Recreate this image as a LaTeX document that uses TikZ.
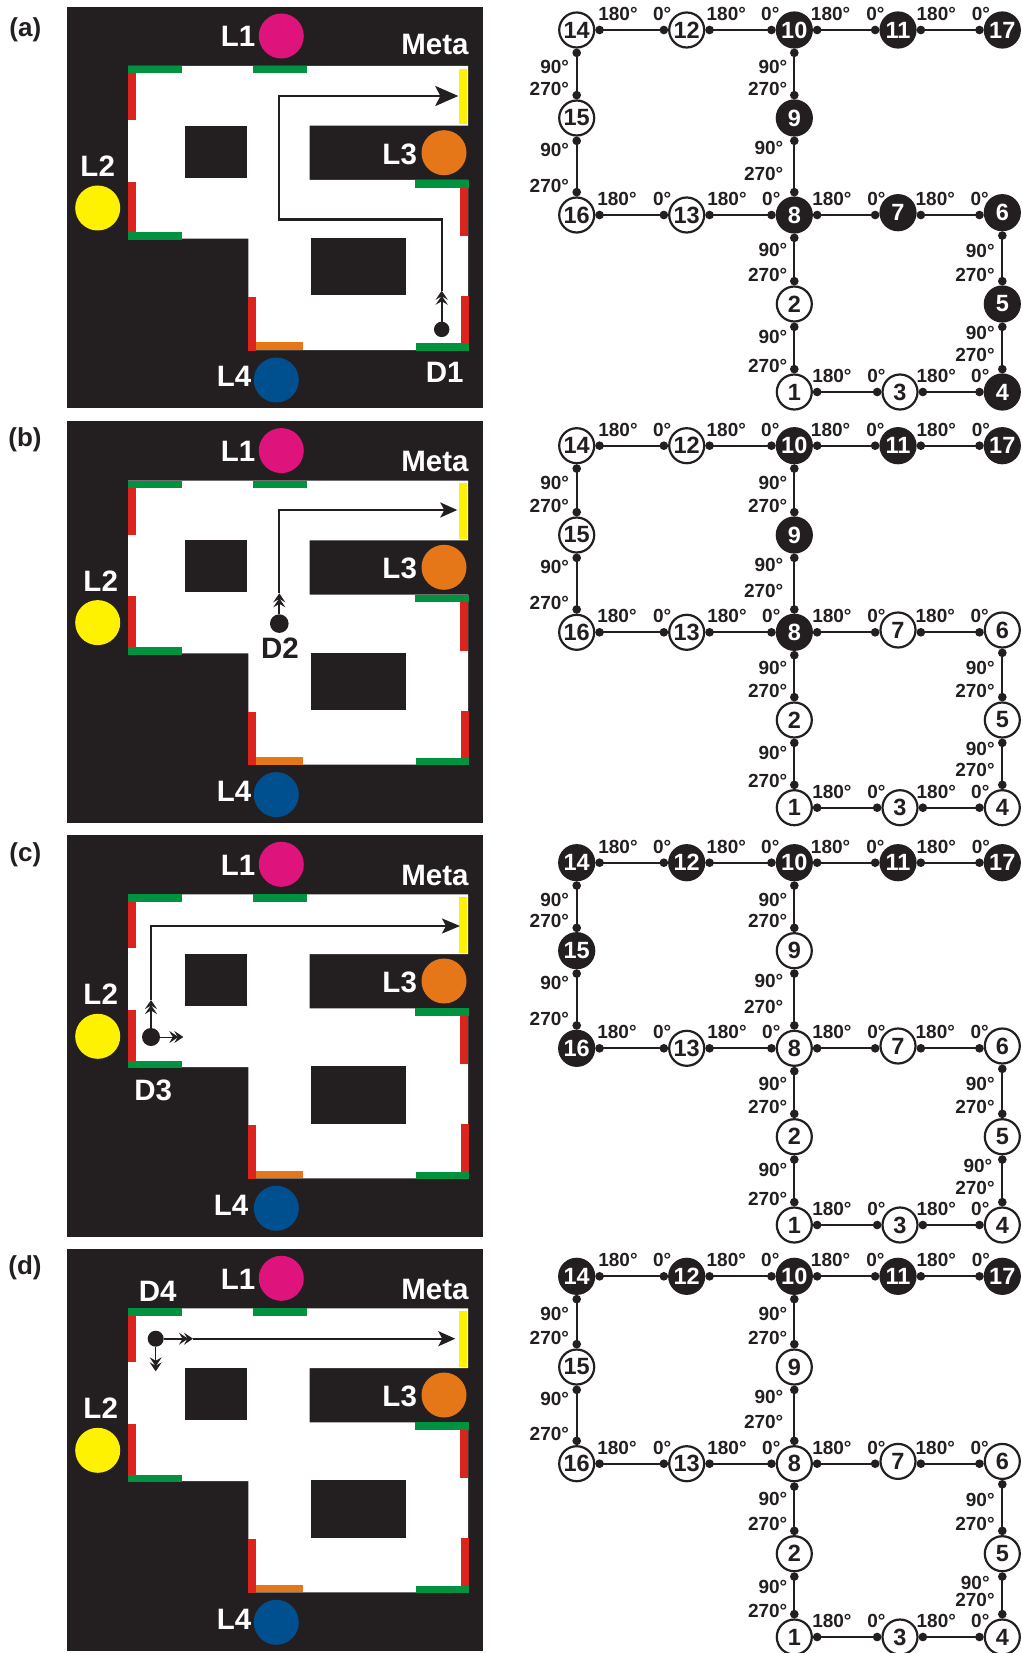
\documentclass[tikz,border=0pt]{standalone}
\usepackage{fontspec}
\setmainfont{Liberation Sans}
\usepackage{xcolor}
\usetikzlibrary{arrows.meta, positioning}

\definecolor{ink}{HTML}{231F20}
\definecolor{lampPink}{HTML}{DE137B}
\definecolor{lampYellow}{HTML}{FFF200}
\definecolor{lampOrange}{HTML}{E57718}
\definecolor{lampBlue}{HTML}{00508F}
\definecolor{barGreen}{HTML}{00923F}
\definecolor{barRed}{HTML}{DC241F}

\tikzset{
  st0/.style={circle, draw=ink, fill=white, text=ink, line width=2.2pt, minimum size=35pt, inner sep=0pt, font=\bfseries\fontsize{23.5}{23.5}\selectfont},
  st1/.style={circle, draw=ink, fill=ink, text=white, line width=2.2pt, minimum size=35pt, inner sep=0pt, font=\bfseries\fontsize{23.5}{23.5}\selectfont},
  link/.style={draw=ink, line width=2pt, {Circle[length=8.5pt,width=8.5pt]}-{Circle[length=8.5pt,width=8.5pt]}},
  ang/.style={inner sep=0pt, text=ink, font=\bfseries\fontsize{19}{19}\selectfont},
  lamp/.style={circle, minimum size=45pt, inner sep=0pt},
  tag/.style={inner sep=0pt, text=white, font=\bfseries\fontsize{29.5}{29.5}\selectfont},
  dtag/.style={inner sep=0pt, text=ink, font=\bfseries\fontsize{29.5}{29.5}\selectfont},
  panel/.style={inner sep=0pt, text=ink, font=\bfseries\fontsize{26}{26}\selectfont},
  robot/.style={circle, fill=ink, inner sep=0pt},
  route/.style={draw=ink, line width=2.3pt},
  probe/.style={draw=ink, line width=0.8pt},
  marks/.style={-{Stealth[length=9pt,width=12pt,inset=3.5pt,sep=-4pt]Stealth[length=9pt,width=12pt,inset=3.5pt]}},
}

% arena: prefix, L2 x, L4 x, Meta y
\newcommand{\maze}[4]{
  \fill[ink] (67.3,0) rectangle (483.3,401.7);
  \fill[white] (128,59.3) -- (468,59.3) -- (468,119) -- (309.5,119) -- (309.5,173.3) -- (468,173.3)
    -- (468,343.3) -- (248.3,343.3) -- (248.3,232) -- (128,232) -- cycle;
  \fill[ink] (184.7,119) rectangle (247,171);
  \fill[ink] (311.3,231.3) rectangle (406.3,288.7);
  % coloured walls
  \fill[barGreen] (128,59.3) rectangle (182,66.7);
  \fill[barGreen] (253.3,59.3) rectangle (307,66.7);
  \fill[barRed] (128,66.7) rectangle (136,113.3);
  \fill[barRed] (128,175) rectangle (136,225.7);
  \fill[barGreen] (128,225.7) rectangle (182,233.3);
  \fill[lampYellow] (459.3,62) rectangle (467.3,117.7);
  \fill[barGreen] (415,173.3) rectangle (469,181);
  \fill[barRed] (460,181) rectangle (468,229.3);
  \fill[barRed] (460.7,289.3) rectangle (468.7,336.7);
  \fill[barGreen] (415.7,336.7) rectangle (469.3,344);
  \fill[barRed] (248.3,290.3) rectangle (256,344);
  \fill[lampOrange] (256,335.7) rectangle (303.3,343.3);
  % lamps
  \node (#1L1) [lamp, fill=lampPink] at (281.3,29.3) {};
  \node (#1L2) [lamp, fill=lampYellow] at (97.7,201.3) {};
  \node (#1L3) [lamp, fill=lampOrange] at (444,146) {};
  \node (#1L4) [lamp, fill=lampBlue] at (276.3,373.3) {};
  \node (#1T1) [tag] at (238,30) {L1};
  \node (#1T2) [tag] at (#2,159.5) {L2};
  \node (#1T3) [tag] at (399.7,147.3) {L3};
  \node (#1T4) [tag] at (#3,370) {L4};
  \node (#1Meta) [tag] at (435,#4) {Meta};
}

% state graph: prefix, five row heights, flags of nodes 1..17, extra shift of one label
\newcommand{\net}[8]{
  \foreach \idn/\nx/\ny in {1/794.3/#6, 2/794.3/#5, 3/900/#6, 4/1002.3/#6, 5/1002.3/#5, 6/1002.3/#4-2.3,
    7/898/#4-2.3, 8/794.3/#4, 9/794.3/#3, 10/794.3/#2, 11/898/#2, 12/686.7/#2, 13/686.7/#4,
    14/576.7/#2, 15/576.7/#3, 16/576.7/#4, 17/1002.3/#2}{
    \pgfmathtruncatemacro\stflag{{#7}[\idn-1]}
    \node (#1\idn) [st\stflag] at (\nx,{\ny}) {\idn};
  }
  \foreach \nA/\nB/\nR/\da/\db in {14/12/14/22.7/-6, 12/10/14/21/-5.4, 10/11/14/17.7/-4, 11/17/14/19.7/-2.7,
    16/13/16/21.7/-6, 13/8/16/21.7/-4.4, 8/7/16/19/-3, 7/6/16/18.7/-4, 1/3/1/19/-5, 3/4/1/17.7/-3.4}{
    \draw[link] (#1\nA.east |- #1\nR) -- (#1\nB.west |- #1\nR)
      node[ang, pos=0, xshift=\da pt, yshift=16pt] {180°}
      node[ang, pos=1, xshift=\db pt, yshift=16pt] {0°};
  }
  \foreach \nA/\nB/\dxa/\dxb/\ta/\tb in {14/15/6.7/6.7/-18.7/10.7, 15/16/6.7/6.7/-13.7/10.7, 10/9/6/6/-18.7/10.7,
    9/8/10/10/-11.7/22.7, 8/2/6/6/-16.7/10.7, 2/1/6/6/-14.7/7.7, 6/5/6.7/6.7/-19.7/10.7, 5/4/6.7+#8/6.7/-10.7/18.7}{
    \pgfmathsetmacro\dxc{\dxa}
    \draw[link] (#1\nA) -- (#1\nB)
      node[ang, anchor=east, pos=0, xshift=-\dxc pt, yshift=\ta pt] {90°}
      node[ang, anchor=east, pos=1, xshift=-\dxb pt, yshift=\tb pt] {270°};
  }
}

\begin{document}
\begin{tikzpicture}[x=1pt, y=-1pt]
\useasboundingbox (0,0) rectangle (1021,1653);

% Panel a
\node (lblA) [panel] at (25.3,29.3) {(a)};
\begin{scope}[shift={(0,6.7)}]
  \maze{a}{97.7}{234}{37.3}
  \node (aD1) [tag] at (444.7,366) {D1};
  \node (aBot) [robot, minimum size=15.4pt] at (441.7,322.7) {};
  \coordinate (aMid) at (441.7,284);
  \coordinate (aTurnA) at (279.3,212.7);
  \coordinate (aTurnB) at (279.3,89.3);
  \coordinate (aEnd) at (458.3,89.3);
  \draw[route, marks] (aBot) -- (aMid);
  \draw[route, -{Stealth[length=23pt,width=20pt,inset=5pt]}] (aMid) |- (aTurnA) -- (aTurnB) -- (aEnd);
\end{scope}
\net{a}{30}{118}{215}{304}{392}{0,0,0,1,1,1,1,1,1,1,1,0,0,0,0,0,1}{0}

% Panel b
\node (lblB) [panel] at (25,439.3) {(b)};
\begin{scope}[shift={(0,421.3)}]
  \maze{b}{100.7}{234}{40.3}
  \node (bD2) [dtag] at (280,227) {D2};
  \node (bBot) [robot, minimum size=18.6pt] at (279.3,202.3) {};
  \coordinate (bMid) at (279.3,172);
  \coordinate (bTurn) at (279.3,88.7);
  \coordinate (bEnd) at (457.3,88.7);
  \draw[route, marks] (bBot) -- (bMid);
  \draw[route, -{Stealth[length=17pt,width=15pt,inset=4pt]}] (bMid) -- (bTurn) -- (bEnd);
\end{scope}
\net{b}{445.7}{535}{632.3}{720}{807.7}{0,0,0,0,0,0,0,1,1,1,1,0,0,0,0,0,1}{0}

% Panel c
\node (lblC) [panel] at (25.3,855) {(c)};
\begin{scope}[shift={(0,835)}]
  \maze{c}{100.7}{231}{40.7}
  \node (cD3) [tag] at (153.3,255) {D3};
  \node (cBot) [robot, minimum size=18pt] at (151,202) {};
  \coordinate (cMid) at (151,165);
  \coordinate (cTurn) at (151,91);
  \coordinate (cEnd) at (460,91);
  \coordinate (cSide) at (183.3,202);
  \draw[route, marks] (cBot) -- (cMid);
  \draw[route, -{Stealth[length=18pt,width=15pt,inset=4pt]}] (cMid) -- (cTurn) -- (cEnd);
  \draw[probe, marks] (cBot) -- (cSide);
\end{scope}
\net{c}{862.7}{950.7}{1048.3}{1136.7}{1225}{0,0,0,0,0,0,0,0,0,1,1,1,0,1,1,1,1}{2.3}

% Panel d
\node (lblD) [panel] at (25,1268) {(d)};
\begin{scope}[shift={(0,1249)}]
  \maze{d}{100.7}{234}{40.7}
  \node (dD4) [tag] at (157.7,42.3) {D4};
  \node (dBot) [robot, minimum size=16pt] at (155.7,89.7) {};
  \coordinate (dMid) at (193,89.7);
  \coordinate (dEnd) at (455.3,89.7);
  \coordinate (dSide) at (155.7,122.3);
  \draw[route, marks] (dBot) -- (dMid);
  \draw[route, -{Stealth[length=17pt,width=15pt,inset=4pt]}] (dMid) -- (dEnd);
  \draw[probe, marks] (dBot) -- (dSide);
\end{scope}
\net{d}{1276.3}{1367}{1463.7}{1553.7}{1637}{0,0,0,0,0,0,0,0,0,1,1,1,0,1,0,0,1}{5}
\end{tikzpicture}
\end{document}
